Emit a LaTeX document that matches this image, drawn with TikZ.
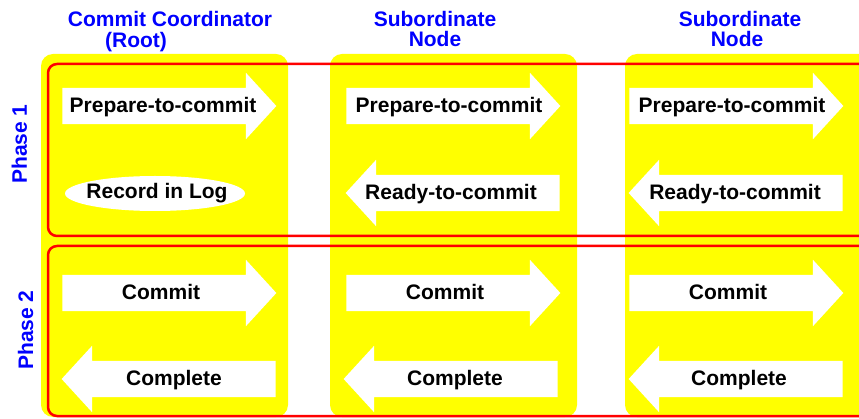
\documentclass[tikz,border=0pt]{standalone}
\usepackage{fontspec}
\setmainfont{Liberation Sans}
\usetikzlibrary{shapes.arrows,shapes.geometric}
\definecolor{colyellow}{RGB}{255,255,0}
\definecolor{phasered}{RGB}{255,0,0}
\definecolor{hdrblue}{RGB}{0,0,255}
\newcommand{\ctext}[2][0pt]{\hspace*{#1}\makebox[0pt]{#2}\hspace*{-#1}}
\tikzset{
  colbox/.style={fill=colyellow,rounded corners=12pt},
  phasebox/.style={draw=phasered,line width=2.5pt,rounded corners=9pt},
  hdr/.style={text=hdrblue,anchor=base,inner sep=0pt},
  msg/.style={
    single arrow,
    fill=white,
    inner xsep=0pt,
    inner ysep=8.5pt,
    text height=16pt,
    text depth=3pt,
    minimum height=214pt,
    single arrow head extend=15pt,
    single arrow tip angle=95
  },
  msgr/.style={msg},
  msgl/.style={msg,shape border rotate=180},
  logoval/.style={ellipse,fill=white,inner sep=0pt,minimum width=180pt,minimum height=35pt}
}
\begin{document}
\begin{tikzpicture}[x=1pt,y=-1pt,every node/.style={font=\bfseries\fontsize{21pt}{21pt}\selectfont}]
  \useasboundingbox (0,0) rectangle (859,419);
  \clip (0,0) rectangle (859,419);

  % columns
  \fill[colbox] (41,54) rectangle (288,417);
  \fill[colbox] (330,54) rectangle (577,417);
  \fill[colbox] (625,54) rectangle (872,417);

  % phases
  \draw[phasebox] (48,64) rectangle (900,236);
  \draw[phasebox] (48,246) rectangle (900,416);

  \node[hdr] (root) at (170,27) {Commit Coordinator};
  \node[hdr] (rootb) at (136,48) {(Root)};
  \node[hdr] (sub1) at (435,27) {Subordinate};
  \node[hdr] (sub1b) at (435,47) {Node};
  \node[hdr] (sub2) at (740,27) {Subordinate};
  \node[hdr] (sub2b) at (737,47) {Node};

  \node[hdr,rotate=90] (ph1) at (27,144) {Phase 1};
  \node[hdr,rotate=90] (ph2) at (33,330) {Phase 2};

  \node[msgr] (c0prep) at (161,106) {\ctext[2pt]{Prepare-to-commit}};
  \node[logoval] (c0log) at (155,193.5) {\ctext[2pt]{Record in Log}};
  \node[msgr] (c0com) at (161,293) {\ctext{Commit}};
  \node[msgl] (c0done) at (177,379) {\ctext[-3pt]{Complete}};

  \node[msgr] (c1prep) at (445,106) {\ctext[4pt]{Prepare-to-commit}};
  \node[msgl] (c1ready) at (461,193) {\ctext[-10pt]{Ready-to-commit}};
  \node[msgr] (c1com) at (445,293) {\ctext{Commit}};
  \node[msgl] (c1done) at (459,379) {\ctext[-4pt]{Complete}};

  \node[msgr] (c2prep) at (728,106) {\ctext[4pt]{Prepare-to-commit}};
  \node[msgl] (c2ready) at (744,193) {\ctext[-9pt]{Ready-to-commit}};
  \node[msgr] (c2com) at (728,293) {\ctext{Commit}};
  \node[msgl] (c2done) at (744,379) {\ctext[-5pt]{Complete}};
\end{tikzpicture}
\end{document}
